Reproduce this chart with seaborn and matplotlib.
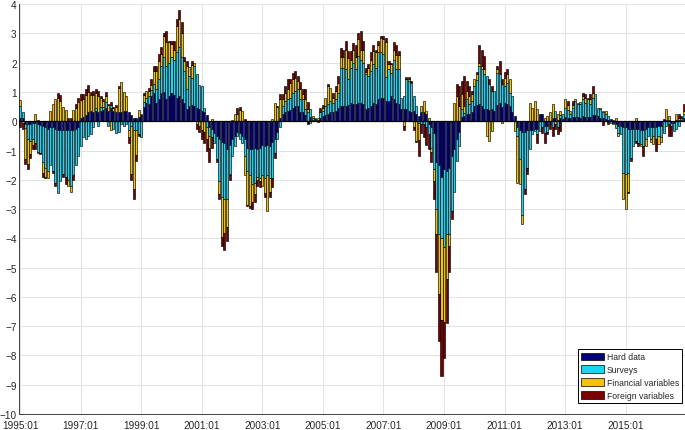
import numpy as np
import pandas as pd
import matplotlib
matplotlib.use("Agg")
import matplotlib.pyplot as plt
import seaborn as sns
from matplotlib.patches import Patch

# ------------------------------------------------------------
# Monthly contributions, 1995:01 - 2016:12
# ------------------------------------------------------------
hard_data = [
    0.12, 0.12, -0.08, -0.10, -0.08, -0.05, -0.05, -0.10, -0.12, -0.15, -0.20, -0.25,  # 1995
    -0.20, -0.20, -0.25, -0.30, -0.30, -0.30, -0.30, -0.30, -0.30, -0.30, -0.25, -0.20,  # 1996
    0.12, 0.15, 0.20, 0.30, 0.35, 0.30, 0.35, 0.30, 0.35, 0.40, 0.45, 0.35,  # 1997
    0.45, 0.35, 0.30, 0.30, 0.30, 0.35, 0.35, 0.30, 0.20, 0.10, 0.10, 0.15,  # 1998
    0.20, 0.50, 0.63, 0.60, 0.86, 0.98, 0.64, 0.75, 0.98, 1.00, 0.75, 0.86,  # 1999
    0.98, 0.90, 0.81, 0.86, 0.75, 0.64, 0.41, 0.52, 0.55, 0.52, 0.45, 0.41,  # 2000
    0.35, 0.30, 0.20, -0.20, -0.25, -0.40, -0.50, -0.60, -0.70, -0.75, -0.95, -0.80,  # 2001
    -0.60, -0.50, -0.35, -0.40, -0.50, -0.60, -0.90, -0.95, -0.95, -0.90, -0.95, -0.90,  # 2002
    -0.80, -0.85, -0.80, -0.85, -0.70, -0.60, -0.35, 0.10, 0.24, 0.30, 0.35, 0.40,  # 2003
    0.45, 0.52, 0.52, 0.30, 0.30, 0.20, -0.10, 0.13, 0.05, 0.04, 0.03, 0.10,  # 2004
    0.18, 0.20, 0.25, 0.30, 0.32, 0.35, 0.45, 0.52, 0.52, 0.52, 0.55, 0.64,  # 2005
    0.60, 0.60, 0.64, 0.62, 0.60, 0.41, 0.47, 0.52, 0.64, 0.60, 0.75, 0.80,  # 2006
    0.80, 0.70, 0.70, 0.86, 0.75, 0.64, 0.58, 0.41, 0.41, 0.41, 0.35, 0.30,  # 2007
    0.35, 0.24, 0.18, 0.30, 0.30, 0.25, -0.10, -0.20, -0.40, -1.40, -1.50, -1.90,  # 2008
    -1.64, -1.70, -1.60, -1.20, -0.95, -0.60, -0.35, 0.13, 0.18, 0.24, 0.25, 0.30,  # 2009
    0.52, 0.55, 0.58, 0.52, 0.41, 0.41, 0.40, 0.41, 0.35, 0.55, 0.64, 0.50,  # 2010
    0.64, 0.60, 0.52, 0.30, 0.18, -0.20, -0.30, -0.35, -0.35, -0.30, -0.30, -0.30,  # 2011
    -0.25, -0.25, 0.24, 0.24, -0.15, -0.15, -0.10, 0.10, 0.10, 0.05, 0.10, 0.08,  # 2012
    0.15, 0.12, 0.10, 0.15, 0.15, 0.15, 0.12, 0.18, 0.15, 0.15, 0.15, 0.20,  # 2013
    0.20, 0.18, 0.12, 0.10, 0.08, 0.06, 0.07, -0.05, -0.10, -0.15, -0.15, -0.20,  # 2014
    -0.20, -0.25, -0.25, -0.25, -0.25, -0.25, -0.30, -0.30, -0.25, -0.20, -0.20, -0.20,  # 2015
    -0.20, -0.15, -0.15, 0.07, 0.05, 0.05, -0.05, -0.05, 0.05, 0.05, 0.05, 0.10,  # 2016
]
surveys = [
    0.40, 0.18, -0.15, -0.50, -0.60, -0.55, -0.70, -0.95, -0.95, -1.25, -1.40, -1.45,  # 1995
    -1.30, -1.50, -1.85, -2.15, -1.75, -1.50, -1.60, -1.70, -1.90, -1.55, -1.25, -1.00,  # 1996
    -0.85, -0.55, -0.60, -0.50, -0.45, -0.20, 0.10, -0.15, 0.15, 0.10, 0.20, -0.15,  # 1997
    0.10, -0.25, -0.40, -0.35, -0.10, -0.15, -0.10, -0.30, -0.15, -0.30, -0.30, -0.45,  # 1998
    -0.55, 0.15, 0.15, 0.25, 0.20, 0.30, 0.45, 0.68, 0.92, 1.20, 1.15, 1.14,  # 1999
    1.22, 1.20, 1.54, 1.69, 1.45, 1.08, 0.68, 1.03, 0.94, 1.38, 1.15, 0.84,  # 2000
    0.85, 0.15, -0.20, -0.30, -0.30, -0.33, -0.80, -1.45, -1.90, -1.90, -1.70, -1.00,  # 2001
    -0.60, -0.35, -0.15, -0.20, -0.25, -0.60, -0.80, -0.90, -1.20, -1.20, -0.95, -1.05,  # 2002
    -1.05, -1.10, -1.05, -1.10, -1.25, -0.50, -0.25, -0.20, 0.28, 0.40, 0.40, 0.40,  # 2003
    0.50, 0.51, 0.57, 0.45, 0.45, 0.21, 0.30, 0.28, 0.05, 0.04, 0.03, 0.20,  # 2004
    0.17, 0.32, 0.33, 0.40, 0.32, 0.40, 0.53, 1.31, 1.31, 1.25, 0.88, 1.19,  # 2005
    1.40, 1.17, 1.58, 1.48, 1.40, 1.19, 1.08, 1.20, 1.31, 1.23, 1.60, 1.55,  # 2006
    1.50, 0.80, 1.07, 0.79, 1.35, 1.13, 1.19, 0.39, 0.45, 1.02, 1.03, 1.00,  # 2007
    0.51, 0.28, -0.05, -0.10, -0.10, -0.20, -0.35, -0.70, -1.24, -1.60, -2.35, -2.10,  # 2008
    -2.66, -2.15, -2.25, -1.85, -1.48, -0.75, -0.50, 0.28, 0.10, 0.51, 0.33, 0.40,  # 2009
    0.68, 0.85, 1.31, 1.25, 1.19, 1.14, 0.86, 0.62, 0.68, 1.11, 0.96, 0.76,  # 2010
    0.56, 0.70, 0.46, 0.56, 0.00, -0.30, -1.00, -2.85, -1.95, -1.30, -0.65, -0.15,  # 2011
    -0.08, -0.20, -0.33, -0.20, -0.25, -0.20, 0.00, -0.20, 0.25, -0.20, 0.10, 0.16,  # 2012
    0.30, 0.25, 0.15, 0.30, 0.55, 0.43, 0.46, 0.57, 0.49, 0.60, 0.43, 0.60,  # 2013
    0.72, 0.29, 0.29, 0.20, 0.16, 0.12, -0.05, 0.05, -0.12, -0.25, -0.30, -1.55,  # 2014
    -1.60, -1.50, -0.99, -0.60, -0.42, -0.48, -0.48, -0.54, -0.35, -0.30, -0.40, -0.30,  # 2015
    -0.40, -0.35, -0.40, -0.40, -0.15, -0.10, -0.10, -0.28, -0.27, -0.16, 0.05, 0.15,  # 2016
]
financial = [
    0.22, -0.05, -1.05, -0.85, -0.45, -0.20, 0.25, -0.05, -0.03, -0.35, -0.30, -0.25,  # 1995
    0.35, 0.60, 0.75, 0.80, 0.70, 0.50, 0.38, -0.20, -0.20, 0.40, 0.45, 0.65,  # 1996
    0.62, 0.60, 0.70, 0.70, 0.55, 0.60, 0.50, 0.55, 0.30, 0.20, 0.20, 0.20,  # 1997
    -0.30, 0.10, 0.20, 0.85, 1.05, 0.65, 0.50, -0.25, -1.65, -2.00, -0.85, 0.25,  # 1998
    0.05, 0.25, 0.25, 0.20, 0.19, 0.45, 0.63, 0.63, 0.40, 0.70, 0.80, 0.70,  # 1999
    0.45, 0.35, 0.90, 0.93, 0.80, 0.34, 0.79, 0.30, 0.44, 0.10, -0.10, -0.15,  # 2000
    -0.30, -0.35, -0.40, -0.40, 0.07, 0.00, 0.00, -0.45, -1.35, -1.15, -0.95, -0.05,  # 2001
    0.05, 0.25, 0.25, 0.38, 0.35, -0.65, -1.15, -1.05, -0.60, -0.40, -0.10, -0.10,  # 2002
    -0.35, -0.50, -1.20, -0.45, 0.07, 0.64, 0.50, 0.65, 0.23, 0.28, 0.34, 0.52,  # 2003
    0.48, 0.46, 0.29, 0.34, 0.17, 0.34, 0.11, -0.05, 0.08, 0.04, 0.04, 0.00,  # 2004
    0.12, 0.28, 0.64, 0.45, 0.16, 0.28, 0.34, 0.37, 0.37, 0.68, 0.74, 0.27,  # 2005
    0.45, 0.43, 0.58, 0.35, 0.45, 0.10, 0.28, 0.38, 0.45, 0.52, 0.25, 0.50,  # 2006
    0.50, 1.20, 0.17, 0.30, 0.35, 0.51, 0.51, 0.00, -0.15, 0.02, 0.05, 0.03,  # 2007
    -0.20, -0.67, -0.60, 0.22, 0.40, 0.10, 0.10, -0.15, -0.39, -0.85, -2.05, -2.80,  # 2008
    -2.55, -1.55, -0.40, 0.00, 0.64, 0.86, 0.52, 0.51, 0.24, 0.28, 0.28, 0.22,  # 2009
    0.23, 0.20, 0.11, 0.12, 0.17, -0.50, -0.67, -0.33, 0.00, 0.11, 0.06, -0.05,  # 2010
    0.29, 0.30, 0.45, 0.00, -0.33, -1.60, -0.85, -0.30, 0.00, 0.00, 0.64, 0.47,  # 2011
    0.70, 0.41, 0.00, 0.00, 0.10, 0.18, 0.30, 0.48, -0.10, 0.19, 0.15, 0.00,  # 2012
    0.30, 0.20, 0.10, 0.10, 0.05, 0.06, 0.08, 0.11, 0.16, 0.05, 0.17, 0.15,  # 2013
    0.00, 0.00, 0.06, 0.05, 0.11, 0.00, 0.00, -0.03, 0.12, -0.10, 0.00, -0.90,  # 2014
    -1.20, -0.65, 0.00, 0.00, 0.12, 0.00, -0.07, 0.00, -0.24, 0.00, -0.10, -0.28,  # 2015
    0.00, -0.28, -0.17, 0.00, 0.38, 0.13, 0.00, 0.00, 0.19, 0.05, 0.00, 0.10,  # 2016
]
foreign = [
    -0.18, -0.22, -0.17, -0.17, -0.12, -0.15, -0.20, 0.05, -0.02, -0.15, -0.05, 0.02,  # 1995
    0.00, -0.05, -0.10, 0.15, 0.20, -0.10, -0.25, 0.10, 0.10, -0.15, 0.13, 0.15,  # 1996
    0.18, 0.17, 0.20, 0.25, 0.10, 0.15, 0.15, 0.20, 0.05, 0.05, 0.15, 0.05,  # 1997
    0.10, 0.05, 0.05, 0.05, 0.00, 0.00, 0.00, -0.18, -0.20, -0.35, -0.20, -0.05,  # 1998
    0.00, 0.05, 0.00, 0.10, 0.20, 0.17, 0.18, 0.24, 0.25, 0.10, 0.40, 0.05,  # 1999
    0.10, 0.30, 0.25, 0.32, 0.40, 0.14, 0.17, 0.00, 0.12, 0.00, -0.15, -0.20,  # 2000
    -0.30, -0.38, -0.40, -0.50, -0.35, 0.00, -0.10, -0.15, -0.30, -0.60, -0.50, -0.15,  # 2001
    0.00, 0.00, 0.20, 0.12, 0.00, 0.07, -0.05, -0.05, -0.25, -0.25, -0.20, -0.20,  # 2002
    0.00, -0.15, 0.00, -0.20, -0.30, -0.15, 0.02, 0.17, 0.17, 0.22, 0.34, 0.11,  # 2003
    0.23, 0.23, 0.17, 0.26, 0.18, 0.35, 0.24, 0.00, 0.00, 0.00, -0.03, 0.17,  # 2004
    0.08, 0.00, 0.04, 0.00, 0.18, 0.19, 0.23, 0.30, 0.25, 0.28, 0.23, 0.30,  # 2005
    0.23, 0.40, 0.20, 0.63, 0.28, 0.13, 0.12, 0.25, 0.20, 0.10, 0.15, 0.05,  # 2006
    0.10, 0.15, 0.11, 0.05, 0.25, 0.32, 0.11, 0.00, -0.15, 0.05, 0.07, 0.04,  # 2007
    -0.10, -0.05, -0.55, -0.30, -0.45, -0.60, -0.50, -0.35, -0.63, -1.30, -1.60, -1.90,  # 2008
    -1.25, -1.50, -0.90, -0.30, 0.00, 0.40, 0.68, 0.45, 1.03, 0.34, 0.34, 0.11,  # 2009
    0.00, 0.10, 0.62, 0.56, 0.46, 0.00, 0.17, 0.17, 0.00, 0.13, 0.39, 0.17,  # 2010
    0.21, 0.17, 0.00, 0.00, 0.00, 0.00, 0.00, 0.00, -0.20, -0.20, 0.00, 0.00,  # 2011
    0.00, -0.28, 0.00, -0.20, -0.33, -0.10, -0.17, -0.30, -0.17, -0.25, -0.33, 0.00,  # 2012
    0.00, 0.13, 0.00, 0.15, 0.00, 0.00, 0.00, 0.12, 0.12, 0.00, 0.17, 0.25,  # 2013
    0.00, 0.00, 0.00, -0.12, 0.00, -0.08, 0.00, 0.00, 0.00, 0.00, 0.00, 0.00,  # 2014
    0.00, -0.05, -0.11, 0.00, -0.06, -0.11, 0.00, -0.34, 0.00, 0.00, 0.00, 0.00,  # 2015
    -0.40, 0.00, 0.00, 0.00, 0.00, -0.40, -0.35, 0.00, 0.00, 0.14, 0.08, 0.23,  # 2016
]

series_names = ["Hard data", "Surveys", "Financial variables", "Foreign variables"]
series_colors = ["#00007f", "#1ed4f2", "#f5c400", "#7a0000"]
tick_labels = ["1995:01", "1997:01", "1999:01", "2001:01", "2003:01", "2005:01",
               "2007:01", "2009:01", "2011:01", "2013:01", "2015:01"]

months = pd.period_range("1995-01", periods=len(hard_data), freq="M").strftime("%Y:%m")
df = pd.DataFrame({"Hard data": hard_data, "Surveys": surveys,
                   "Financial variables": financial, "Foreign variables": foreign},
                  index=months)

# ------------------------------------------------------------
# Plot
# ------------------------------------------------------------
sns.set_theme(style="white")
plt.rcParams["font.family"] = ["Liberation Sans", "DejaVu Sans"]

fig = plt.figure(figsize=(6.85, 4.31), dpi=100)
ax = fig.add_axes([0.0275, 0.037, 0.9725, 0.951])

x = np.arange(len(df))
pos_base = np.zeros(len(df))
neg_base = np.zeros(len(df))
for name, col in zip(series_names, series_colors):
    v = df[name].to_numpy()
    for mask, base in ((v > 0, pos_base), (v < 0, neg_base)):
        ax.bar(x[mask], v[mask], width=0.8, bottom=base[mask], color=col,
               edgecolor="black", linewidth=0.45, zorder=3)
        base[mask] += v[mask]

ax.axhline(0, color="black", linewidth=0.9, zorder=4)

ax.set_xlim(-0.5, len(df) - 0.5)
ax.set_ylim(-10, 4)
ax.set_yticks(range(-10, 5))
ax.set_xticks([months.get_loc(t) for t in tick_labels])
ax.set_xticklabels(tick_labels)

ax.grid(True, color="#e3e3e3", linewidth=0.7, zorder=0)
ax.tick_params(axis="both", direction="in", length=3, width=0.6, color="#404040",
               labelsize=7.2, labelcolor="#262626")
ax.tick_params(axis="y", pad=1.5)
ax.tick_params(axis="x", pad=4)
sns.despine(ax=ax)
for s in ("left", "bottom"):
    ax.spines[s].set_color("#404040")
    ax.spines[s].set_linewidth(0.7)

handles = [Patch(facecolor=c, edgecolor="black", linewidth=0.5) for c in series_colors]
leg = ax.legend(handles, series_names, loc="lower right", bbox_to_anchor=(0.996, 0.027),
                fontsize=6.2, frameon=True, fancybox=False, framealpha=1,
                edgecolor="black", handlelength=2.7, handleheight=1.0,
                labelspacing=0.45, borderpad=0.35, handletextpad=0.3, borderaxespad=0)
leg.get_frame().set_linewidth(0.7)

fig.savefig("out.png", dpi=100)
